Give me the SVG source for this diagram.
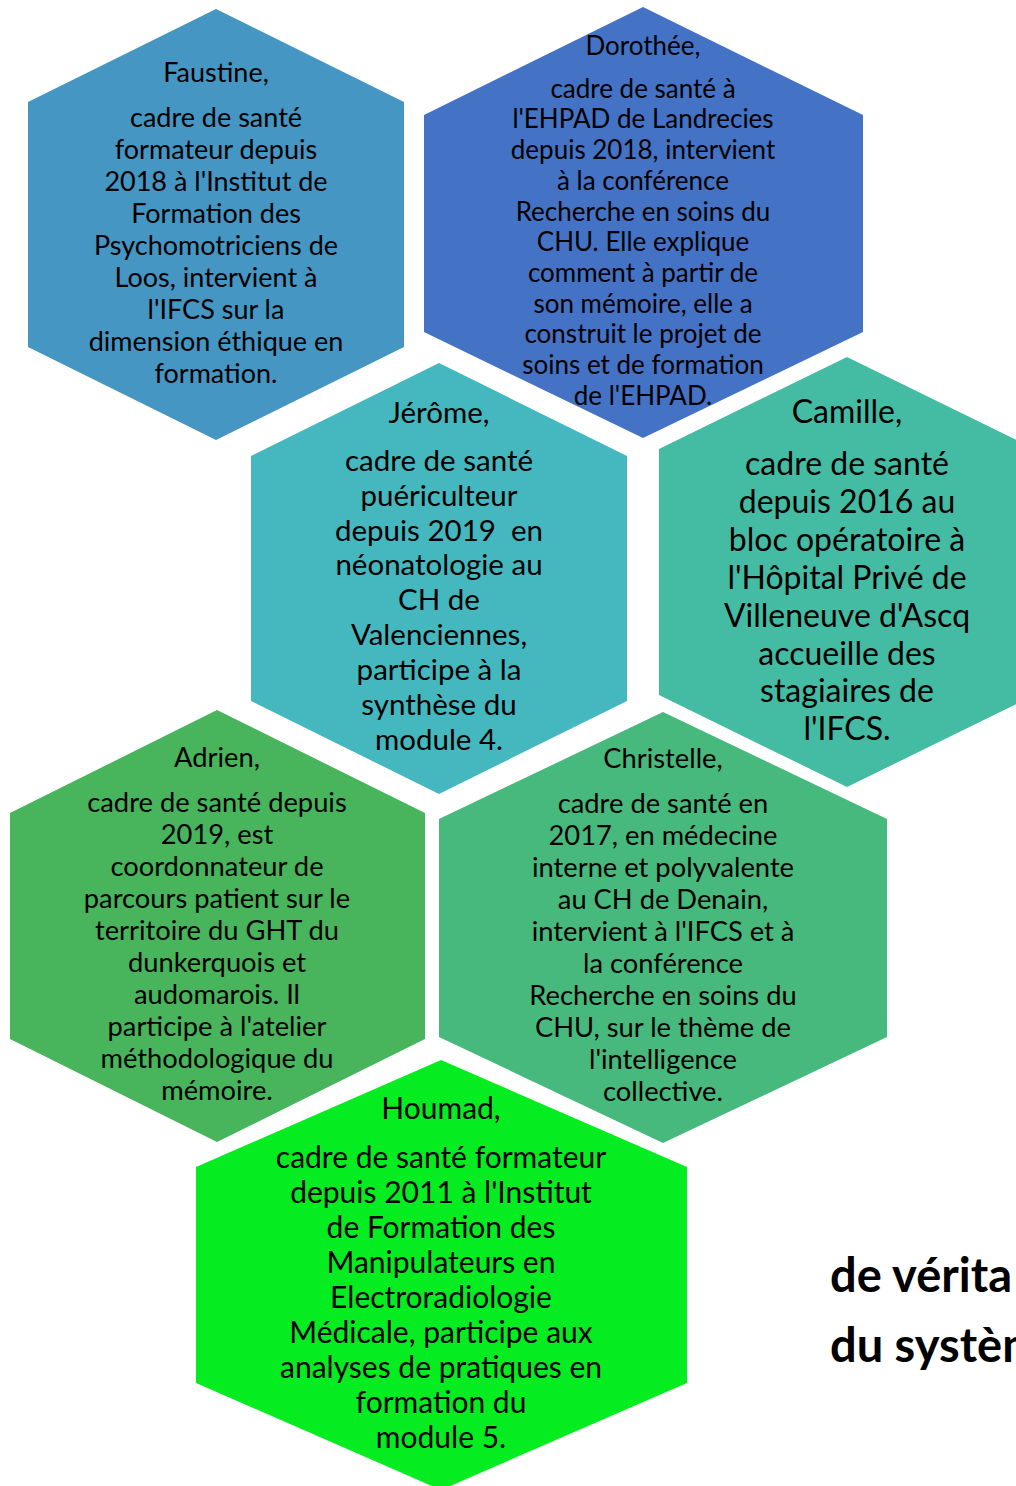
<svg xmlns="http://www.w3.org/2000/svg" width="1016" height="1486" viewBox="0 0 1016 1486">
<style>
text{font-family:Lato,"Liberation Sans",sans-serif;fill:#000;text-anchor:middle}
.f{font-size:27px}
.d{font-size:26px}
.j{font-size:29.5px}
.c{font-size:32px}
.a{font-size:27.3px}
.ch{font-size:27.3px}
.h{font-size:30px}
.big{font-size:47px;font-weight:bold;text-anchor:start}
</style>
<rect width="1016" height="1486" fill="#fff"/>
<g id="faustine">
<polygon points="216,9 404,102 404,347 216,440 28,347 28,102" fill="#4596C3"/>
<text class="f" x="216"><tspan x="216" y="82">Faustine,</tspan><tspan x="216" y="127">cadre de santé</tspan><tspan x="216" y="159">formateur depuis</tspan><tspan x="216" y="191">2018 à l'Institut de</tspan><tspan x="216" y="223">Formation des</tspan><tspan x="216" y="255">Psychomotriciens de</tspan><tspan x="216" y="287">Loos, intervient à</tspan><tspan x="216" y="319">l'IFCS sur la</tspan><tspan x="216" y="351">dimension éthique en</tspan><tspan x="216" y="383">formation.</tspan></text>
</g>
<g id="dorothee">
<polygon points="643,7 863,115 863,332 643,438 424,332 424,115" fill="#4472C4"/>
</g>
<g id="jerome">
<polygon points="439,363 627,456 627,701 439,794 251,701 251,456" fill="#44B7BF"/>
<text class="j"><tspan x="439" y="422.7">Jérôme,</tspan><tspan x="439" y="470.7">cadre de santé</tspan><tspan x="439" y="505.6">puériculteur</tspan><tspan x="439" y="540.5" xml:space="preserve">depuis 2019  en</tspan><tspan x="439" y="575.4">néonatologie au</tspan><tspan x="439" y="610.3">CH de</tspan><tspan x="439" y="645.2">Valenciennes,</tspan><tspan x="439" y="680.1">participe à la</tspan><tspan x="439" y="715">synthèse du</tspan><tspan x="439" y="750">module 4.</tspan></text>
</g>
<g id="camille">
<polygon points="847,357 1035,449 1035,695 847,787 659,695 659,449" fill="#44BBA3"/>
<text class="c"><tspan x="847" y="422.7">Camille,</tspan><tspan x="847" y="475">cadre de santé</tspan><tspan x="847" y="512.9">depuis 2016 au</tspan><tspan x="847" y="550.8">bloc opératoire à</tspan><tspan x="847" y="588.7">l'Hôpital Privé de</tspan><tspan x="847" y="626.6">Villeneuve d'Ascq</tspan><tspan x="847" y="664.5">accueille des</tspan><tspan x="847" y="702.4">stagiaires de</tspan><tspan x="847" y="740.3">l'IFCS.</tspan></text>
</g>
<g id="dorothee-text">
<text class="d"><tspan x="643" y="55">Dorothée,</tspan><tspan x="643" y="97.7">cadre de santé à</tspan><tspan x="643" y="128.4">l'EHPAD de Landrecies</tspan><tspan x="643" y="159.1">depuis 2018, intervient</tspan><tspan x="643" y="189.8">à la conférence</tspan><tspan x="643" y="220.5">Recherche en soins du</tspan><tspan x="643" y="251.2">CHU. Elle explique</tspan><tspan x="643" y="281.9">comment à partir de</tspan><tspan x="643" y="312.6">son mémoire, elle a</tspan><tspan x="643" y="343.3">construit le projet de</tspan><tspan x="643" y="374">soins et de formation</tspan><tspan x="643" y="404.7">de l'EHPAD.</tspan></text>
</g>
<g id="adrien">
<polygon points="217,710 425,813 425,1039 217,1142 10,1039 10,813" fill="#48B45C"/>
<text class="a"><tspan x="217" y="766.7">Adrien,</tspan><tspan x="217" y="811.7">cadre de santé depuis</tspan><tspan x="217" y="843.7">2019, est</tspan><tspan x="217" y="875.7">coordonnateur de</tspan><tspan x="217" y="907.7">parcours patient sur le</tspan><tspan x="217" y="939.7">territoire du GHT du</tspan><tspan x="217" y="971.7">dunkerquois et</tspan><tspan x="217" y="1003.7">audomarois. Il</tspan><tspan x="217" y="1035.7">participe à l'atelier</tspan><tspan x="217" y="1067.7">méthodologique du</tspan><tspan x="217" y="1099.7">mémoire.</tspan></text>
</g>
<g id="christelle">
<polygon points="663,712 887,819 887,1037 663,1143 439,1037 439,819" fill="#47B97C"/>
<text class="ch"><tspan x="663" y="768">Christelle,</tspan><tspan x="663" y="813.3">cadre de santé en</tspan><tspan x="663" y="845.3">2017, en médecine</tspan><tspan x="663" y="877.3">interne et polyvalente</tspan><tspan x="663" y="909.3">au CH de Denain,</tspan><tspan x="663" y="941.3">intervient à l'IFCS et à</tspan><tspan x="663" y="973.3">la conférence</tspan><tspan x="663" y="1005.3">Recherche en soins du</tspan><tspan x="663" y="1037.3">CHU, sur le thème de</tspan><tspan x="663" y="1069.3">l'intelligence</tspan><tspan x="663" y="1101.3">collective.</tspan></text>
</g>
<g id="houmad">
<polygon points="441,1060 687,1167 687,1383 441,1490 196,1383 196,1167" fill="#05EC20"/>
<text class="h"><tspan x="441" y="1119">Houmad,</tspan><tspan x="441" y="1168.3">cadre de santé formateur</tspan><tspan x="441" y="1203.3">depuis 2011 à l'Institut</tspan><tspan x="441" y="1238.3">de Formation des</tspan><tspan x="441" y="1273.3">Manipulateurs en</tspan><tspan x="441" y="1308.3">Electroradiologie</tspan><tspan x="441" y="1343.3">Médicale, participe aux</tspan><tspan x="441" y="1378.3">analyses de pratiques en</tspan><tspan x="441" y="1413.3">formation du</tspan><tspan x="441" y="1448.3">module 5.</tspan></text>
</g>
<g id="caption">
<text class="big" x="830" y="1292">de vérita</text>
<text class="big" x="830" y="1362">du systèm</text>
</g>
<g id="connectors"></g>
</svg>
